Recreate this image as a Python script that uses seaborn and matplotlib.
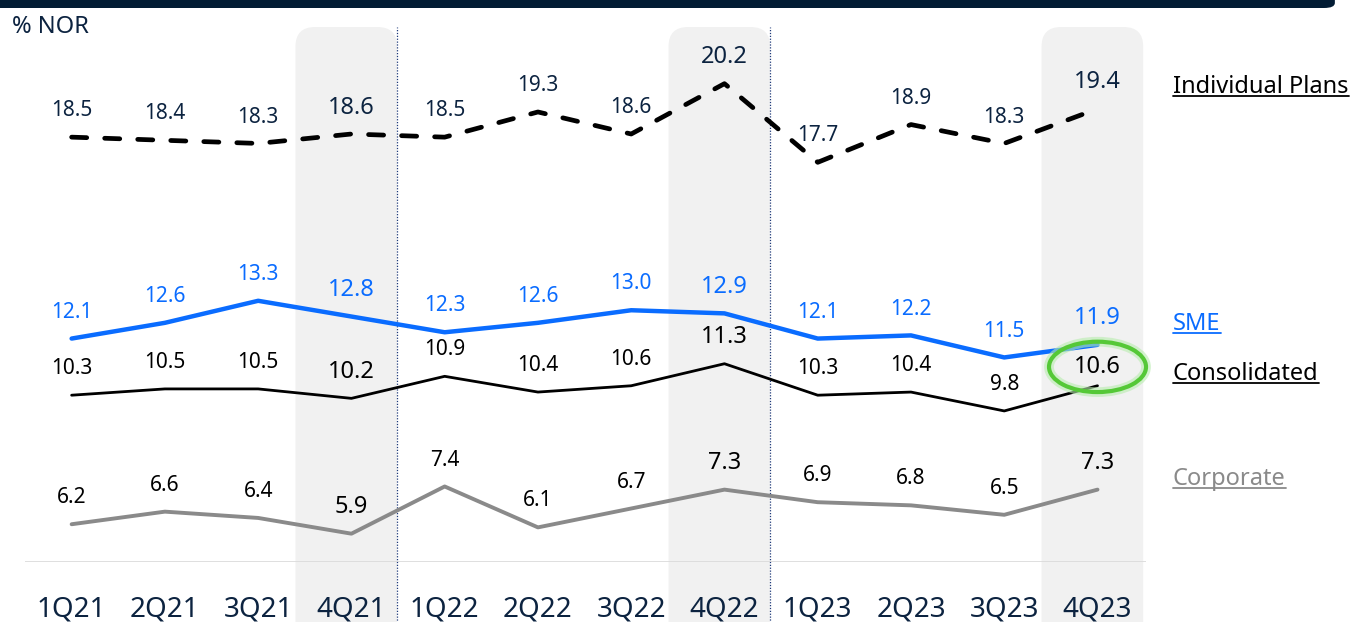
import matplotlib
matplotlib.use("Agg")
import matplotlib.pyplot as plt
from matplotlib.patches import FancyBboxPatch, Ellipse
from matplotlib.lines import Line2D
import pandas as pd
import seaborn as sns

quarters = ['1Q21', '2Q21', '3Q21', '4Q21', '1Q22', '2Q22', '3Q22', '4Q22',
            '1Q23', '2Q23', '3Q23', '4Q23']
individual = [18.5, 18.4, 18.3, 18.6, 18.5, 19.3, 18.6, 20.2, 17.7, 18.9, 18.3, 19.4]
sme = [12.1, 12.6, 13.3, 12.8, 12.3, 12.6, 13.0, 12.9, 12.1, 12.2, 11.5, 11.9]
consolidated = [10.3, 10.5, 10.5, 10.2, 10.9, 10.4, 10.6, 11.3, 10.3, 10.4, 9.8, 10.6]
corporate = [6.2, 6.6, 6.4, 5.9, 7.4, 6.1, 6.7, 7.3, 6.9, 6.8, 6.5, 7.3]
highlight_q = ['4Q21', '4Q22', '4Q23']

NAVY = '#0c2340'
BLUE = '#0a6cff'
GRAY = '#8a8a8a'
SHADE = '#f1f1f1'

sns.set_theme(style='white')
plt.rcParams['font.family'] = ['Noto Sans', 'DejaVu Sans']

W, H = 1356, 622
fig = plt.figure(figsize=(W / 100, H / 100), dpi=100)
ax = fig.add_axes([25 / W, 1 - 562 / H, 1121 / W, 535 / H])
ax.set_xlim(-0.5, 11.52)
ax.set_ylim(5, 22)

x = list(range(len(quarters)))
df = pd.DataFrame({'x': x, 'q': quarters, 'Individual Plans': individual,
                   'SME': sme, 'Consolidated': consolidated, 'Corporate': corporate})

# shaded quarter columns (rounded tops)
px_x = 1121 / 12.02
px_y = 535 / 17
asp = px_x / px_y
pad = 0.21
for q in highlight_q:
    i = quarters.index(q)
    box = FancyBboxPatch((i - 0.6 + pad, 1.0 + pad * asp), 1.09 - 2 * pad,
                         22.0 - 1.0 - 2 * pad * asp,
                         boxstyle=f'round,pad={pad},rounding_size={pad}',
                         mutation_aspect=asp, fc=SHADE, ec='none',
                         clip_on=False, zorder=0)
    ax.add_patch(box)

# dotted year separators
for q in ['4Q21', '4Q22']:
    i = quarters.index(q)
    ax.axvline(i + 0.485, ymin=-0.12, ymax=1.0, color='#1f3a7a', lw=0.9,
               ls=(0, (1, 1.3)), clip_on=False, zorder=1)

ax.axhline(5, color='#d9d9d9', lw=1.2, zorder=1)

sns.lineplot(data=df, x='x', y='Individual Plans', ax=ax, color='black', lw=3.4,
             zorder=3)
ax.lines[-1].set_dashes((3.2, 3.8))
ax.lines[-1].set_dash_capstyle('round')
sns.lineplot(data=df, x='x', y='SME', ax=ax, color=BLUE, lw=3.2, zorder=3)
sns.lineplot(data=df, x='x', y='Consolidated', ax=ax, color='black', lw=2.0, zorder=3)
sns.lineplot(data=df, x='x', y='Corporate', ax=ax, color=GRAY, lw=2.8, zorder=3)

label_colors = {'Individual Plans': NAVY, 'SME': BLUE,
                'Consolidated': 'black', 'Corporate': 'black'}
for name, col in label_colors.items():
    for i, v in enumerate(df[name]):
        big = quarters[i] in highlight_q
        if name == 'Consolidated' and quarters[i] == '4Q23':
            continue
        ax.annotate(f'{v:.1f}', (i, v), xytext=(0, 19), textcoords='offset points',
                    ha='center', va='center', fontsize=17 if big else 15,
                    color=col, zorder=5)

# highlighted last consolidated value
hv = consolidated[-1]
ax.add_patch(Ellipse((11, hv + 0.6), 1.04, 1.6, fill=False, ec='#b8ecae', lw=7,
                     alpha=0.6, clip_on=False, zorder=5))
ax.add_patch(Ellipse((11, hv + 0.6), 1.04, 1.6, fill=False, ec='#55c837', lw=3,
                     clip_on=False, zorder=6))
ax.text(11, hv + 0.6, f'{hv:.1f}', ha='center', va='center', fontsize=17,
        color='black', zorder=7)

ax.set_xticks(x)
ax.set_xticklabels(quarters, fontsize=20, color=NAVY)
ax.tick_params(axis='x', length=0, pad=24)
ax.set_yticks([])
ax.set_xlabel('')
ax.set_ylabel('')
for s in ax.spines.values():
    s.set_visible(False)

# top banner
fig.patches.append(FancyBboxPatch((-0.02, 1 - 8 / H), 1343 / W + 0.02 - 0.006, 0.05,
                                  boxstyle='round,pad=0,rounding_size=0.008',
                                  transform=fig.transFigure, fc='#021c34', ec='none',
                                  zorder=10))
fig.text(12 / W, 1 - 27 / H, '% NOR', fontsize=17, color=NAVY, va='center')

# series names, underlined
renderer = fig.canvas.get_renderer()
names = [('Individual Plans', 87, 'black'), ('SME', 324, BLUE),
         ('Consolidated', 374, 'black'), ('Corporate', 479, GRAY)]
for txt, yp, col in names:
    t = fig.text(1173 / W, 1 - yp / H, txt, fontsize=17, color=col, va='center')
    bb = t.get_window_extent(renderer)
    uy = (bb.y0 + 3) / H
    fig.add_artist(Line2D([bb.x0 / W, bb.x1 / W], [uy, uy], color=col, lw=1.3,
                          transform=fig.transFigure))

fig.savefig('out.png', dpi=100)
